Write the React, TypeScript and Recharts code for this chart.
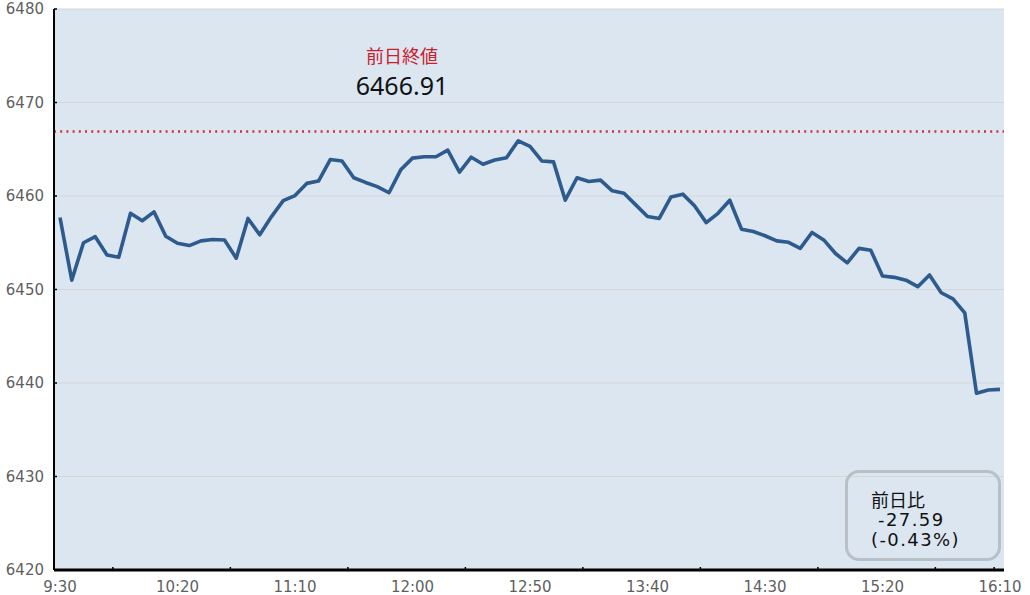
import React from 'react';
import { LineChart, Line, XAxis, YAxis, CartesianGrid, ReferenceLine } from 'recharts';

const values: number[] = [
  6457.7, 6451.0, 6455.0, 6455.65, 6453.7, 6453.45, 6458.15, 6457.35, 6458.3, 6455.7,
  6454.95, 6454.7, 6455.2, 6455.35, 6455.3, 6453.35, 6457.6, 6455.85, 6457.8, 6459.5,
  6460.05, 6461.35, 6461.6, 6463.9, 6463.75, 6461.95, 6461.45, 6461.0, 6460.35, 6462.8,
  6464.05, 6464.2, 6464.2, 6464.9, 6462.55, 6464.15, 6463.4, 6463.85, 6464.1, 6465.9,
  6465.3, 6463.75, 6463.65, 6459.55, 6461.95, 6461.55, 6461.7, 6460.55, 6460.3, 6459.05,
  6457.8, 6457.6, 6459.9, 6460.2, 6458.95, 6457.15, 6458.15, 6459.55, 6456.45, 6456.2,
  6455.75, 6455.2, 6455.05, 6454.4, 6456.1, 6455.3, 6453.85, 6452.85, 6454.4, 6454.2,
  6451.45, 6451.3, 6451.0, 6450.3, 6451.55, 6449.65, 6449.0, 6447.5, 6438.9, 6439.25,
  6439.32,
];

const timeLabels: string[] = ['9:30', '10:20', '11:10', '12:00', '12:50', '13:40', '14:30', '15:20', '16:10'];
const labelIndices: number[] = [0, 10, 20, 30, 40, 50, 60, 70, 80];
const markIndices: number[] = [4.5, 14.5, 24.5, 34.5, 44.5, 54.5, 64.5, 74.5, 79.5];
const yTicks: number[] = [6420, 6430, 6440, 6450, 6460, 6470, 6480];

const prevClose = 6466.91;
const prevCloseTitle = '前日終値';
const diffTitle = '前日比';
const diffValue = '-27.59';
const diffPct = '(-0.43%)';

const data = values.map((v, i) => ({ i, v }));
const xTicks = [...labelIndices, ...markIndices].sort((a, b) => a - b);

const AXIS_FONT = "'DejaVu Sans', sans-serif";

const XTick = (props: any) => {
  const { x, y, payload } = props;
  const idx = labelIndices.indexOf(payload.value);
  if (idx >= 0) {
    return (
      <text x={x} y={y} textAnchor="middle" dominantBaseline="central" dy={6} fill="#5f5f5f" fontSize={15} fontFamily={AXIS_FONT}>
        {timeLabels[idx]}
      </text>
    );
  }
  return <line x1={x} x2={x} y1={y - 11} y2={y - 14} stroke="#000" strokeWidth={1.5} />;
};

const YTick = (props: any) => {
  const { x, y, payload } = props;
  return (
    <g>
      <line x1={x + 10} x2={x + 13} y1={y} y2={y} stroke="#000" strokeWidth={1.5} />
      <text x={x} y={y} textAnchor="end" dominantBaseline="central" fill="#5f5f5f" fontSize={15} fontFamily={AXIS_FONT}>
        {payload.value}
      </text>
    </g>
  );
};

const PrevLabel = (props: any) => {
  const vb = props.viewBox || {};
  const cx = vb.x + 348;
  return (
    <g>
      <text x={cx} y={vb.y - 76} textAnchor="middle" dominantBaseline="central" fill="#c8202c" fontSize={18} fontFamily="'Noto Sans CJK JP', sans-serif">
        {prevCloseTitle}
      </text>
      <text x={cx} y={vb.y - 46} textAnchor="middle" dominantBaseline="central" fill="#111" fontSize={25} fontFamily="'Noto Sans', sans-serif">
        {prevClose.toFixed(2)}
      </text>
    </g>
  );
};

export default function App() {
  return (
    <div style={{ position: 'absolute', left: 0, top: 0, width: 1030, height: 595, background: '#fff' }}>
      <LineChart width={1030} height={595} data={data} margin={{ top: 9, right: 26, bottom: 0, left: 0 }}>
        <CartesianGrid vertical={false} stroke="#d6d6d6" fill="#dce6f1" strokeWidth={1} />
        <XAxis
          dataKey="i"
          type="number"
          domain={[0, 80]}
          ticks={xTicks}
          interval={0}
          padding={{ left: 6, right: 4 }}
          height={25}
          axisLine={{ stroke: '#000', strokeWidth: 3 }}
          tickLine={false}
          tickSize={0}
          tickMargin={11}
          tick={<XTick />}
        />
        <YAxis
          type="number"
          domain={[6420, 6480]}
          ticks={yTicks}
          interval={0}
          width={54}
          axisLine={{ stroke: '#000', strokeWidth: 2 }}
          tickLine={false}
          tickSize={0}
          tickMargin={10}
          tick={<YTick />}
        />
        <ReferenceLine y={prevClose} stroke="#cc3333" strokeWidth={2.5} strokeDasharray="2 4.2" label={<PrevLabel />} />
        <Line
          type="linear"
          dataKey="v"
          stroke="#2e5b8e"
          strokeWidth={3.6}
          strokeLinejoin="round"
          dot={false}
          activeDot={false}
          isAnimationActive={false}
        />
      </LineChart>
      <div
        style={{
          position: 'absolute',
          left: 845,
          top: 470,
          width: 156,
          height: 91,
          boxSizing: 'border-box',
          border: '3px solid #b8bfc6',
          borderRadius: 14,
        }}
      />
      <div
        style={{
          position: 'absolute',
          left: 871,
          top: 489,
          lineHeight: '20.5px',
          fontSize: 18,
          letterSpacing: 1.4,
          color: '#111',
          fontFamily: "'DejaVu Sans', 'Noto Sans CJK JP', sans-serif",
          whiteSpace: 'pre',
        }}
      >
        <div style={{ fontFamily: "'Noto Sans CJK JP', sans-serif", fontSize: 18, letterSpacing: 0 }}>{diffTitle}</div>
        <div>{' ' + diffValue}</div>
        <div>{diffPct}</div>
      </div>
    </div>
  );
}
